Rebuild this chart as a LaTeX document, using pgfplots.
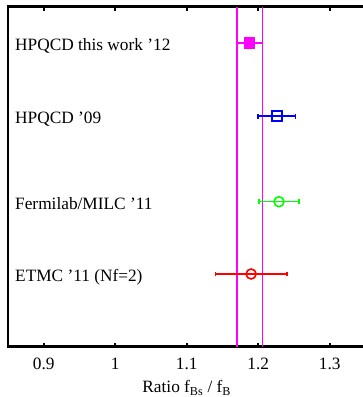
\documentclass[border=0pt]{standalone}
\usepackage{fontspec}
\setmainfont{Liberation Serif}
\usepackage{pgfplots}
\pgfplotsset{compat=1.18}
\usetikzlibrary{calc}
\definecolor{cmag}{RGB}{255,0,255}
\definecolor{cblue}{RGB}{0,0,255}
\definecolor{cgreen}{RGB}{0,255,0}
\definecolor{cred}{RGB}{255,0,0}
\begin{document}
\fontsize{17.3}{20}\selectfont
\begin{tikzpicture}
\begin{axis}[name=a, scale only axis, width=357.5pt, height=340pt,
  xmin=0.85, xmax=1.35, ymin=0, ymax=340,
  xtick={0.9,1,1.1,1.2,1.3}, ytick=\empty,
  /pgf/number format/assume math mode=true,
  xticklabel style={font=\fontsize{17.3}{20}\selectfont, yshift=-5pt},
  tick align=inside, major tick length=4pt,
  tick style={line width=1.8pt, black},
  axis line style={line width=2.5pt},
  xlabel={Ratio f\textsubscript{Bs} / f\textsubscript{B}},
  xlabel style={font=\fontsize{17.3}{20}\selectfont, yshift=0.5pt},
  error bars/error mark=|,
  clip=false]
\addplot[cmag, line width=1.5pt] coordinates {(1.170,0) (1.170,340)};
\addplot[cmag, line width=1.5pt] coordinates {(1.206,0) (1.206,340)};
\addplot[cmag, line width=1.6pt, only marks, mark=square*, mark size=5pt,
  error bars/.cd, x dir=both, x explicit, error mark=|, error bar style={line width=1.6pt, cmag},
  error mark options={line width=1.6pt, cmag, mark size=2.3pt}]
  coordinates {(1.188,303.4) +- (0.018,0)};
\addplot[cblue, line width=1.6pt, only marks, mark=square, mark size=5pt,
  error bars/.cd, x dir=both, x explicit, error mark=|, error bar style={line width=1.6pt, cblue},
  error mark options={line width=1.6pt, cblue, mark size=2.3pt}]
  coordinates {(1.226,230.4) +- (0.026,0)};
\addplot[cgreen, line width=1.6pt, only marks, mark=o, mark size=5pt,
  error bars/.cd, x dir=both, x explicit, error mark=|, error bar style={line width=1.6pt, cgreen},
  error mark options={line width=1.6pt, cgreen, mark size=2.3pt}]
  coordinates {(1.229,145) +- (0.028,0)};
\addplot[cred, line width=1.6pt, only marks, mark=o, mark size=5pt,
  error bars/.cd, x dir=both, x explicit, error mark=|, error bar style={line width=1.6pt, cred},
  error mark options={line width=1.6pt, cred, mark size=2.3pt}]
  coordinates {(1.19,72.7) +- (0.05,0)};
\node[anchor=base west, inner sep=0pt, xshift=7pt, yshift=-7.4pt] at (axis cs:0.85,303.4) {HPQCD this work '12};
\node[anchor=base west, inner sep=0pt, xshift=7pt, yshift=-7.4pt] at (axis cs:0.85,230.4) {HPQCD '09};
\node[anchor=base west, inner sep=0pt, xshift=7pt, yshift=-7.4pt] at (axis cs:0.85,145) {Fermilab/MILC '11};
\node[anchor=base west, inner sep=0pt, xshift=7pt, yshift=-7.4pt] at (axis cs:0.85,72.7) {ETMC '11 (Nf=2)};
\end{axis}
\pgfresetboundingbox
\path ($(a.south west)+(-8pt,-50.3pt)$) rectangle ($(a.north west)+(355pt,6.7pt)$);
\end{tikzpicture}
\end{document}
